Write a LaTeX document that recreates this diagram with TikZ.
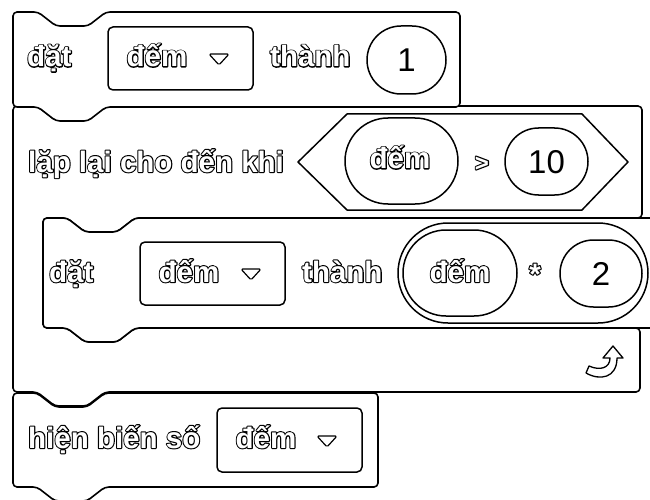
\documentclass[tikz,border=0pt]{standalone}
\usepackage{fontspec}
\setmainfont{Liberation Sans}
\usetikzlibrary{shapes.misc}

% outlined lettering: a stroked copy (PDF text render mode 1) under a white copy
\newcommand\olabel[1]{\rlap{\special{pdf:literal direct 0 G 1 j 2.2 w 1 Tr}#1\special{pdf:literal direct 0 Tr}}{\color{white}#1}}

\tikzset{
  blockline/.style={draw=black, fill=white, line width=1.6pt, rounded corners=4pt, line join=round},
  lbl/.style={anchor=base, inner sep=0pt, font=\fontsize{29.5}{34}\selectfont\bfseries},
  num/.style={anchor=base, inner sep=0pt, font=\fontsize{33}{38}\selectfont},
  pill/.style={rounded rectangle, draw=black, fill=white, line width=1.5pt, inner sep=0pt},
  menu/.style={rectangle, rounded corners=5pt, draw=black, fill=white, line width=1.5pt, inner sep=0pt},
  menucaret/.pic={\draw[line width=1.2pt, fill=white, rounded corners=1.5pt, line join=round]
      (-10,-5) -- (10,-5) -- (0,6) -- cycle;}
}

\begin{document}
\begin{tikzpicture}[x=1pt,y=-1pt]
\useasboundingbox (0,0) rectangle (650,500);
\clip (0,0) rectangle (650,500);

% --- show variable block (bottom of the stack)
\draw[blockline] (13,440) -- (13,393) -- (37,393) -- (55,407) -- (87,407) -- (105,393)
  -- (378,393) -- (378,487) -- (105,487) -- (87,501) -- (55,501) -- (37,487) -- (13,487) -- cycle;

% --- repeat-until C block
\draw[blockline] (13,250) -- (13,106) -- (37,106) -- (55,120) -- (87,120) -- (105,106)
  -- (642,106) -- (642,218) -- (135,218) -- (117,232) -- (85,232) -- (67,218) -- (43,218)
  -- (43,328) -- (67,328) -- (85,342) -- (117,342) -- (135,328) -- (640,328)
  -- (640,392) -- (105,392) -- (87,406) -- (55,406) -- (37,392) -- (13,392) -- cycle;

% --- inner set block
\draw[blockline] (43,270) -- (43,218) -- (67,218) -- (85,232) -- (117,232) -- (135,218)
  -- (670,218) -- (670,328) -- (135,328) -- (117,342) -- (85,342) -- (67,328) -- (43,328) -- cycle;

% --- first set block
\draw[blockline] (13,60) -- (13,12) -- (38,12) -- (56,26) -- (88,26) -- (106,12)
  -- (460,12) -- (460,107) -- (106,107) -- (88,121) -- (56,121) -- (38,107) -- (13,107) -- cycle;

% first set block contents
\node[lbl, anchor=base west] (setA) at (27,66.5) {\olabel{đặt}};
\node[menu, minimum width=145pt, minimum height=63pt] (menuA) at (180.5,58.5) {};
\node[lbl] (varA) at (157,66.5) {\olabel{đếm}};
\pic at (219,59) {menucaret};
\node[lbl, anchor=base west] (toA) at (270,66.5) {\olabel{thành}};
\node[pill, minimum width=79pt, minimum height=68pt] (valA) at (406.5,60) {};
\node[num] (oneA) at (406.5,72) {1};

% repeat condition
\node[lbl, anchor=base west] (until) at (28,172) {\olabel{lặp lại cho đến khi}};
\draw[line width=1.5pt, fill=white, line join=round] (298,162) -- (347,114) -- (582,114)
  -- (628,162) -- (582,210) -- (347,210) -- cycle;
\node[pill, minimum width=113pt, minimum height=86pt] (varB) at (401.5,161) {};
\node[lbl] (varBt) at (400,168.5) {\olabel{đếm}};
\node[lbl, font=\fontsize{24}{28}\selectfont\bfseries] (gt) at (482,171) {\olabel{>}};
\node[pill, minimum width=83pt, minimum height=67pt] (tenB) at (546.5,161.5) {};
\node[num] (tenBt) at (546.5,173.5) {10};

% inner set block contents
\node[lbl, anchor=base west] (setC) at (49,282) {\olabel{đặt}};
\node[menu, minimum width=145pt, minimum height=63pt] (menuC) at (212.5,273.5) {};
\node[lbl] (varC) at (189,282) {\olabel{đếm}};
\pic at (251,274) {menucaret};
\node[lbl, anchor=base west] (toC) at (302,282) {\olabel{thành}};
\node[pill, minimum width=250pt, minimum height=100pt] (times) at (523,273) {};
\node[pill, minimum width=114pt, minimum height=86pt] (varD) at (460,273) {};
\node[lbl] (varDt) at (460,282) {\olabel{đếm}};
\node[lbl] (star) at (535,284) {\olabel{*}};
\node[pill, minimum width=82pt, minimum height=67pt] (two) at (601,273.5) {};
\node[num] (twot) at (601,285.5) {2};

% loop arrow
\draw[line width=1.3pt, fill=white, line join=round]
  (586,373) .. controls (600,381) and (617,378) .. (617,358) -- (623,358) -- (613,346)
  -- (603,358) -- (610,358) .. controls (610,368) and (600,371) .. (589,366) -- cycle;

% show variable contents
\node[lbl, anchor=base west] (show) at (28,448) {\olabel{hiện biến số}};
\node[menu, minimum width=145pt, minimum height=64pt] (menuE) at (289.5,440) {};
\node[lbl] (varE) at (266,448) {\olabel{đếm}};
\pic at (327,441) {menucaret};
\end{tikzpicture}
\end{document}
